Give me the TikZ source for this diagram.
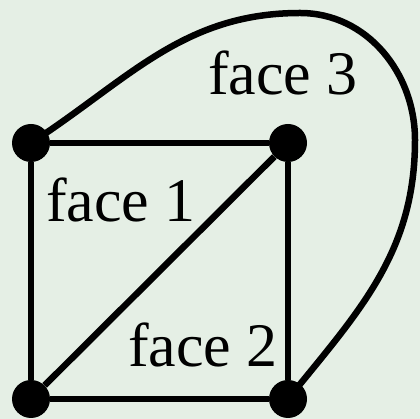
\documentclass[tikz,border=0pt]{standalone}
\usepackage{fontspec}
\setmainfont{Liberation Serif}
\usetikzlibrary{positioning}
\definecolor{pagebg}{RGB}{229,239,229}
\tikzset{
  vertex/.style={circle, fill=black, minimum size=38pt, inner sep=0pt},
  edge/.style={line width=6.5pt, black},
  facelabel/.style={font=\fontsize{62}{70}\selectfont, anchor=base, inner sep=0pt},
}

\begin{document}
\begin{tikzpicture}[x=1pt, y=1pt]

  % ── Background ──
  \fill[pagebg] (0,0) rectangle (420,419);
  \useasboundingbox (0,0) rectangle (420,419);

  % ── Vertices ──
  \node[vertex] (tl) at (31,276) {};
  \node[vertex] (tr) at (288,276) {};
  \node[vertex] (bl) at (31,20) {};
  \node[vertex] (br) at (288,20) {};

  % ── Outer arc helpers ──
  \coordinate (archtop)   at (300,406);
  \coordinate (archright) at (415,279);

  % ── Edges ──
  \draw[edge] (tl) -- (tr);
  \draw[edge] (tl) -- (bl);
  \draw[edge] (bl) -- (br);
  \draw[edge] (tr) -- (br);
  \draw[edge] (bl) -- (tr);
  \draw[edge] (tl.center) to[out=33, in=180] (archtop)
    to[out=0, in=90] (archright)
    to[out=-90, in=51] (br.center);

  % ── Face labels ──
  \node[facelabel] (face1) at (121,197) {face 1};
  \node[facelabel] (face2) at (203,52) {face 2};
  \node[facelabel] (face3) at (283,324) {face 3};

\end{tikzpicture}
\end{document}
